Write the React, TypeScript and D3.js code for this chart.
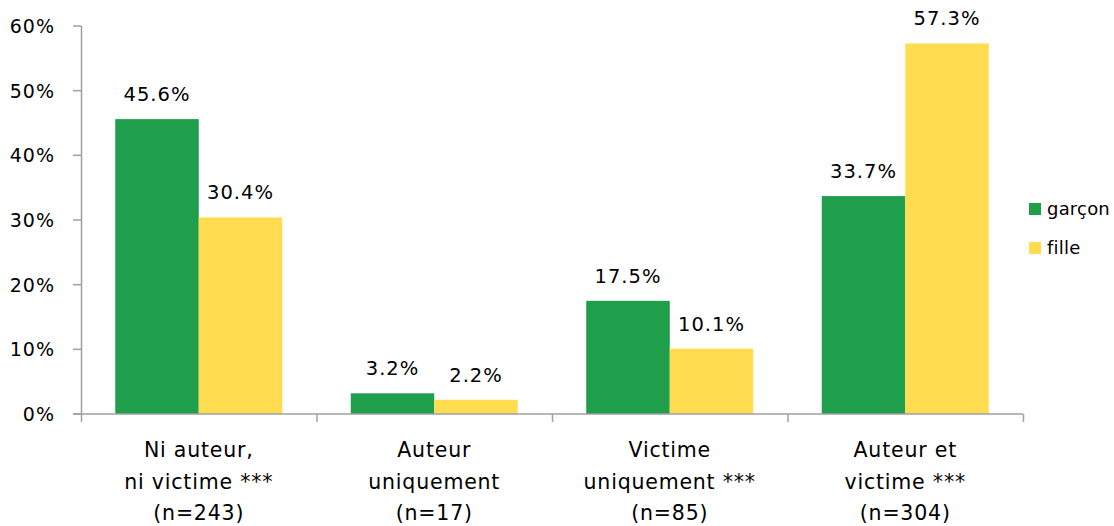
import React from "react";
import * as d3 from "d3";

const categories: string[][] = [
  ["Ni auteur,", "ni victime ***", "(n=243)"],
  ["Auteur", "uniquement", "(n=17)"],
  ["Victime", "uniquement ***", "(n=85)"],
  ["Auteur et", "victime ***", "(n=304)"],
];
const garcon = [45.6, 3.2, 17.5, 33.7];
const fille = [30.4, 2.2, 10.1, 57.3];
const yTicks = [0, 10, 20, 30, 40, 50, 60];
const seriesNames = ["garçon", "fille"];
const colors = ["#1f9e4b", "#ffdc50"];

const W = 1114;
const H = 526;
const FONT = "'DejaVu Sans', sans-serif";

export default function App() {
  const x0 = 81, x1 = 1023, yTop = 26, yBot = 414;
  const x = d3.scaleBand<number>().domain(d3.range(categories.length)).range([x0, x1]).paddingInner(0).paddingOuter(0);
  const y = d3.scaleLinear().domain([0, 60]).range([yBot, yTop]);
  const bw = x.bandwidth();
  const barW = 83.5;
  const xs = d3.scaleBand<number>().domain([0, 1]).range([(bw - 2 * barW) / 2, (bw + 2 * barW) / 2]);
  const series = [garcon, fille];
  const axisColor = "#a0a0a0";

  return (
    <svg width={W} height={H} style={{ position: "absolute", left: 0, top: 0, background: "#fff" }} fontFamily={FONT}>
      {series.map((s, si) =>
        s.map((v, ci) => (
          <rect
            key={`b${si}-${ci}`}
            x={(x(ci) as number) + (xs(si) as number)}
            y={y(v)}
            width={xs.bandwidth()}
            height={yBot - y(v)}
            fill={colors[si]}
          />
        ))
      )}
      {series.map((s, si) =>
        s.map((v, ci) => (
          <text
            key={`l${si}-${ci}`}
            x={(x(ci) as number) + (xs(si) as number) + xs.bandwidth() / 2}
            y={y(v) - 18}
            textAnchor="middle"
            fontSize={19.5}
            letterSpacing={1}
            fill="#000"
          >
            {v.toFixed(1) + "%"}
          </text>
        ))
      )}
      <line x1={x0 + 0.5} x2={x0 + 0.5} y1={yTop} y2={yBot} stroke={axisColor} strokeWidth={1.5} />
      {yTicks.map((t) => (
        <g key={`yt${t}`}>
          <line x1={x0 - 8} x2={x0} y1={y(t)} y2={y(t)} stroke={axisColor} strokeWidth={1.5} />
          <text x={55} y={y(t) + 7} textAnchor="end" fontSize={19} letterSpacing={1} fill="#000">
            {t + "%"}
          </text>
        </g>
      ))}
      <line x1={x0 - 8} x2={x1} y1={yBot} y2={yBot} stroke={axisColor} strokeWidth={1.5} />
      {d3.range(categories.length + 1).map((i) => {
        const xx = i < categories.length ? (x(i) as number) : x1;
        return <line key={`xt${i}`} x1={xx + 0.5} x2={xx + 0.5} y1={yBot} y2={yBot + 8} stroke={axisColor} strokeWidth={1.5} />;
      })}
      {categories.map((lines, ci) => (
        <text
          key={`c${ci}`}
          x={(x(ci) as number) + bw / 2}
          textAnchor="middle"
          fontSize={20.5}
          letterSpacing={0.8}
          fill="#000"
        >
          {lines.map((ln, li) => (
            <tspan key={li} x={(x(ci) as number) + bw / 2} y={457 + li * 31.5}>
              {ln}
            </tspan>
          ))}
        </text>
      ))}
      {seriesNames.map((n, i) => (
        <g key={`lg${i}`}>
          <rect x={1029} y={203 + i * 39} width={12} height={12} fill={colors[i]} />
          <text x={1047} y={215 + i * 39} fontSize={18} letterSpacing={0.2} fill="#000">
            {n}
          </text>
        </g>
      ))}
    </svg>
  );
}
